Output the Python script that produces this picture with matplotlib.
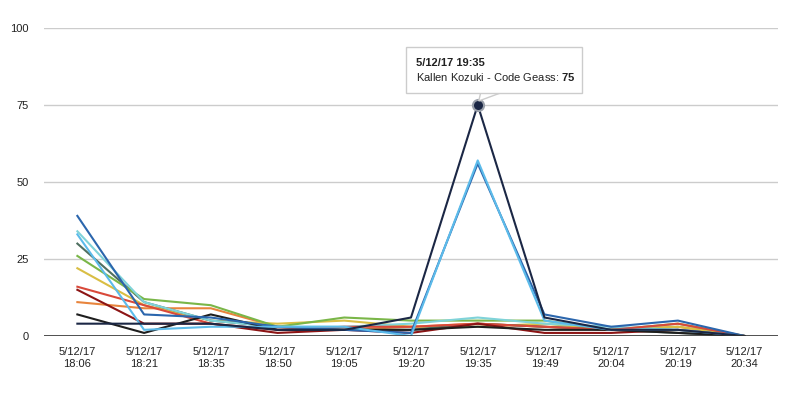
import matplotlib
matplotlib.use("Agg")
import matplotlib.pyplot as plt
import matplotlib.transforms as mtransforms
from matplotlib.patches import Rectangle, Polygon

# ─────────────────────────────
# Data
# ─────────────────────────────
times = ["18:06", "18:21", "18:35", "18:50", "19:05", "19:20",
         "19:35", "19:49", "20:04", "20:19", "20:34"]
date_label = "5/12/17"

blue = [39, 7, 6, 3, 2, 1, 56, 7, 3, 5, 0]
light_blue = [33, 2, 3, 3, 3, 0, 57, 5, 2, 2, 0]
cyan = [34, 11, 5, 3, 3, 4, 6, 4, 3, 2, 0]
grey_green = [30, 11, 5, 3, 2, 2, 4, 3, 2, 1, 0]
green = [26, 12, 10, 3, 6, 5, 5, 5, 2, 4, 0]
yellow = [22, 10, 5, 4, 5, 3, 3, 4, 2, 3, 0]
red = [16, 10, 4, 2, 3, 3, 4, 3, 2, 4, 0]
dark_red = [15, 4, 4, 1, 2, 1, 4, 1, 1, 2, 0]
orange = [11, 9, 9, 3, 2, 3, 4, 3, 2, 3, 0]
black = [7, 1, 7, 2, 2, 2, 3, 2, 2, 1, 0]
kallen = [4, 4, 4, 2, 2, 6, 75, 6, 2, 2, 0]
kallen_name = "Kallen Kozuki - Code Geass"

series = [
    (orange, "#e8843c"),
    (yellow, "#d9be44"),
    (grey_green, "#4f6f60"),
    (green, "#7ab648"),
    (cyan, "#7fd3d9"),
    (red, "#d9493a"),
    (dark_red, "#8c1515"),
    (black, "#1e1e1e"),
    (blue, "#2b66ad"),
    (light_blue, "#5cbbea"),
    (kallen, "#1b2745"),
]

plt.rcParams["font.family"] = ["Liberation Sans", "DejaVu Sans"]
plt.rcParams["mathtext.fontset"] = "custom"
plt.rcParams["mathtext.bf"] = "Liberation Sans:bold"
plt.rcParams["mathtext.rm"] = "Liberation Sans"

fig = plt.figure(figsize=(7.98, 3.98), dpi=100)
ax = fig.add_axes([44 / 798, 62 / 398, 734 / 798, 308 / 398])

x = list(range(len(times)))
for vals, color in series:
    ax.plot(x, vals, color=color, lw=1.5, zorder=3)

# highlighted point
pk = kallen.index(max(kallen))
ax.plot(pk, kallen[pk], "o", ms=8, mfc="#1b2745", mec="#9aa0aa", mew=1.5, zorder=5)

# ─────────────────────────────
# Axes styling
# ─────────────────────────────
ax.set_xlim(-0.5, len(times) - 0.5)
ax.set_ylim(0, 100)
ax.set_yticks([0, 25, 50, 75, 100])
ax.grid(axis="y", color="#cccccc", lw=1)
ax.axhline(0, color="#333333", lw=1.2, zorder=4)
ax.set_xticks(x)
ax.set_xticklabels([f"{date_label}\n{t}" for t in times])
ax.tick_params(length=0, labelsize=8, colors="#222222", pad=8)
ax.tick_params(axis="y", pad=11)
for s in ax.spines.values():
    s.set_visible(False)

# ─────────────────────────────
# Tooltip (sized in pixels, anchored on the peak point)
# ─────────────────────────────
pt = (pk, kallen[pk])
px = mtransforms.IdentityTransform() + mtransforms.ScaledTranslation(*pt, ax.transData)

shadow = Rectangle((-71, 11), 176, 46, transform=px, fc="#e6e6e6", ec="none",
                   zorder=6, clip_on=False)
box = Rectangle((-72, 12), 176, 46, transform=px, fc="white", ec="#cccccc",
                lw=1, zorder=6.5, clip_on=False)
pointer = Polygon([(3, 12.5), (24, 12.5), (1, 4)], closed=True, transform=px,
                  fc="white", ec="#cccccc", lw=1, zorder=6.4, clip_on=False)
for p in (shadow, pointer, box):
    ax.add_patch(p)

line1 = f"{date_label} {times[pk]}"
line2 = f"{kallen_name}: " + r"$\mathbf{" + str(kallen[pk]) + "}$"
ax.annotate(line1, xy=pt, xytext=(-62, 42), textcoords="offset pixels",
            ha="left", va="center", fontsize=8, fontweight="bold",
            color="#222222", zorder=7, annotation_clip=False)
ax.annotate(line2, xy=pt, xytext=(-62, 28), textcoords="offset pixels",
            ha="left", va="center", fontsize=8,
            color="#222222", zorder=7, annotation_clip=False)

fig.savefig("out.png", dpi=100)
